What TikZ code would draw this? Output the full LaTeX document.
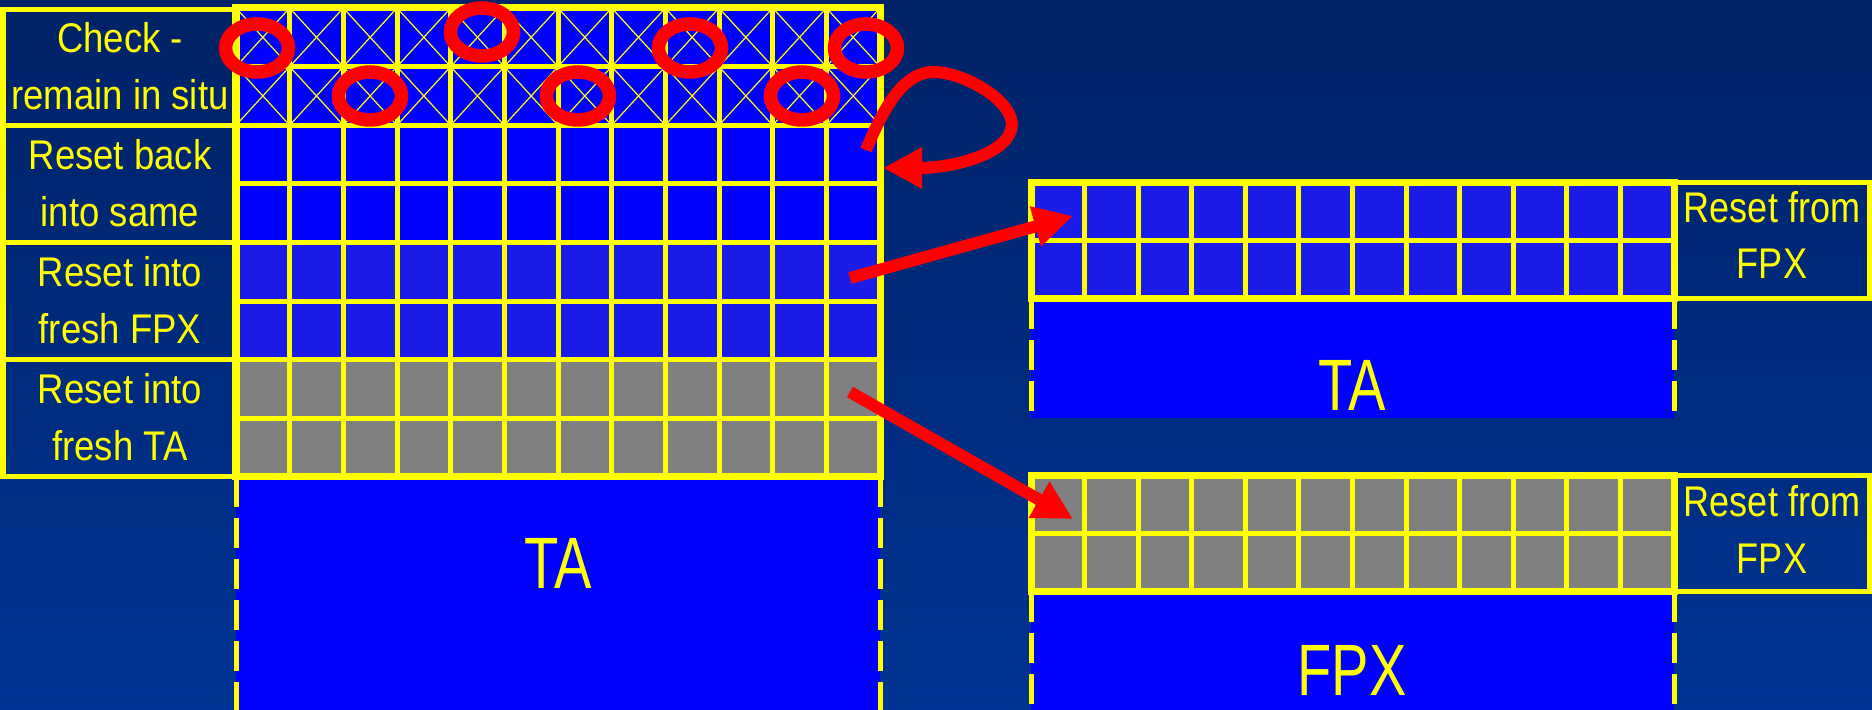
\documentclass[tikz,border=0pt]{standalone}
\usepackage{fontspec}
\usetikzlibrary{arrows.meta,calc}
\newfontfamily\labelfont[FakeStretch=0.88]{Liberation Sans}
\newfontfamily\sidefont[FakeStretch=0.84]{Liberation Sans}
\newfontfamily\bigfont[FakeStretch=0.77]{Liberation Sans}
\definecolor{slidetop}{RGB}{0,34,102}
\definecolor{slidebot}{RGB}{0,52,148}
\definecolor{cellblue}{RGB}{0,0,255}
\definecolor{fpxcell}{RGB}{28,28,232}
\definecolor{tacell}{RGB}{128,128,128}
\definecolor{lineyel}{RGB}{255,255,0}
\definecolor{redpen}{RGB}{255,0,0}
\tikzset{
  gridline/.style={lineyel,line width=0.05cm},
  frameline/.style={lineyel,line width=0.07cm},
  crossline/.style={lineyel,line width=0.012cm},
  dashside/.style={lineyel,line width=0.05cm,dash pattern=on 0.3cm off 0.11cm},
  ring/.style={redpen,line width=0.135cm},
  bigarrow/.style={redpen,line width=0.12cm,-{Triangle[length=0.39cm,width=0.39cm]}},
  rowlabel/.style={lineyel,align=center,inner sep=0pt,font=\labelfont\fontsize{11.8}{16.2}\selectfont},
  sidelabel/.style={lineyel,align=center,inner sep=0pt,font=\sidefont\fontsize{12.2}{16.2}\selectfont},
  blocklabel/.style={lineyel,inner sep=0pt,font=\bigfont\fontsize{20.7}{24}\selectfont}
}

\begin{document}
\begin{tikzpicture}[x=0.01cm,y=-0.01cm]
    \useasboundingbox (0,0) rectangle (1872,710);
    % slide background
    \shade[top color=slidetop,bottom color=slidebot] (0,0) rectangle (1872,710);

    \def\cw{53.667}
    \def\rh{58.625}

    % Left block: TA with the rows that get checked or reset
    \fill[cellblue] (236,8) rectangle (880,242.5);
    \fill[fpxcell] (236,242.5) rectangle (880,359.75);
    \fill[tacell] (236,359.75) rectangle (880,477);
    \fill[cellblue] (236,477) rectangle (880,710);
    \foreach \i in {0,...,11}
      \foreach \j in {0,1}
        \draw[crossline] (236+\i*\cw,8+\j*\rh) -- ++(\cw,\rh)
                         (236+\i*\cw+\cw,8+\j*\rh) -- ++(-\cw,\rh);
    \foreach \i in {1,...,11}
      \draw[gridline] (236+\i*\cw,8) -- (236+\i*\cw,477);
    \foreach \j in {1,...,7}
      \draw[gridline] (236,8+\j*\rh) -- (880,8+\j*\rh);
    \draw[frameline] (236,8) rectangle (880,477);
    \draw[dashside] (236,477) -- (236,710);
    \draw[dashside] (880,477) -- (880,710);
    \node[blocklabel] (taleft) at (558,563) {TA};

    % row labels
    \draw[gridline] (3,10) rectangle (236,477);
    \foreach \j in {2,4,6}
      \draw[gridline] (3,8+\j*\rh) -- (236,8+\j*\rh);
    \node[rowlabel] (check) at (120,66) {Check -\\remain in situ};
    \node[rowlabel] (resetsame) at (120,183) {Reset back\\into same};
    \node[rowlabel] (resetfpx) at (120,300) {Reset into\\fresh FPX};
    \node[rowlabel] (resetta) at (120,417) {Reset into\\fresh TA};

    % Right blocks
    \def\colw{53.583}
    \foreach \top/\cellc in {183/fpxcell,476/tacell} {
      \fill[\cellc] (1031,\top) rectangle (1674,\top+116);
      \foreach \i in {1,...,11}
        \draw[gridline] (1031+\i*\colw,\top) -- (1031+\i*\colw,\top+116);
      \draw[gridline] (1031,\top+58) -- (1674,\top+58);
      \draw[gridline] (1674,\top) rectangle (1869,\top+116);
      \draw[frameline] (1031,\top) rectangle (1674,\top+116);
    }
    \fill[cellblue] (1031,299) rectangle (1674,418);
    \draw[dashside] (1031,299) -- (1031,418);
    \draw[dashside] (1674,299) -- (1674,418);
    \fill[cellblue] (1031,592) rectangle (1674,710);
    \draw[dashside] (1031,592) -- (1031,710);
    \draw[dashside] (1674,592) -- (1674,710);
    \draw[frameline] (1031,299) -- (1674,299);
    \draw[frameline] (1031,592) -- (1674,592);

    \node[sidelabel] (fromfpxtop) at (1772,235) {Reset from\\FPX};
    \node[sidelabel] (fromfpxlow) at (1772,529) {Reset from\\FPX};
    \node[blocklabel] (taright) at (1352,385) {TA};
    \node[blocklabel] (fpxright) at (1352,670) {FPX};

    % checked cells
    \foreach \cx/\cy in {257/48,482/32,370/96,578/96,690/48,802/96,866/48}
      \draw[ring] (\cx,\cy) ellipse (31.5 and 24);

    % reset arrows
    \coordinate (loopstart) at (866,150);
    \coordinate (loopend) at (883,168);
    \coordinate (fpxtail) at (850,278);
    \coordinate (fpxtip) at (1073,216);
    \coordinate (tatail) at (850,392);
    \coordinate (tatip) at (1073,519);
    \draw[bigarrow] (loopstart) .. controls (882,112) and (902,71) .. (935,72)
        .. controls (965,73) and (1012,100) .. (1012,125)
        .. controls (1010,155) and (950,168) .. (loopend);
    \draw[bigarrow] (fpxtail) -- (fpxtip);
    \draw[bigarrow] (tatail) -- (tatip);
\end{tikzpicture}
\end{document}
